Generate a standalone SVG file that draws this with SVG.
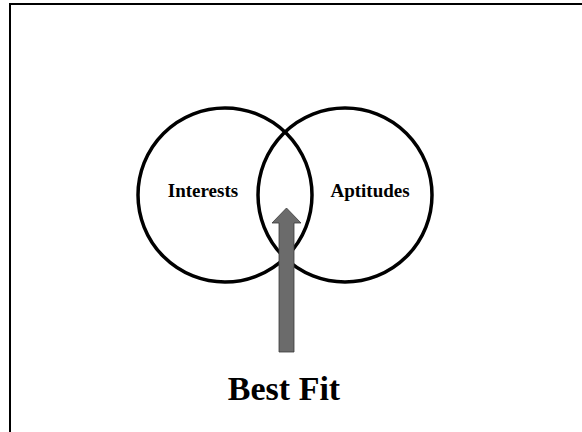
<svg xmlns="http://www.w3.org/2000/svg" width="582" height="432" viewBox="0 0 582 432">
<style>
.c{fill:none;stroke:#000;stroke-width:3.5}
.t{font-family:"Liberation Serif","Times New Roman",serif;font-weight:bold;fill:#000;text-anchor:middle}
</style>
<rect width="582" height="432" fill="#fff"/>
<rect x="10" y="4" width="600" height="460" fill="none" stroke="#000" stroke-width="2"/>
<g id="interests">
<circle class="c" cx="225" cy="195" r="87"/>
<text class="t" x="203" y="197" font-size="19">Interests</text>
</g>
<g id="aptitudes">
<circle class="c" cx="345" cy="195" r="87"/>
<text class="t" x="370" y="197" font-size="19">Aptitudes</text>
</g>
<g id="connectors">
<path d="M286.5 208 L301 223 L294 223 L294 352 L279 352 L279 223 L272 223 Z" fill="#6b6b6b" stroke="#3a3a3a" stroke-width="0.8"/>
</g>
<g id="best-fit">
<text class="t" x="284" y="400" font-size="34">Best Fit</text>
</g>
</svg>
